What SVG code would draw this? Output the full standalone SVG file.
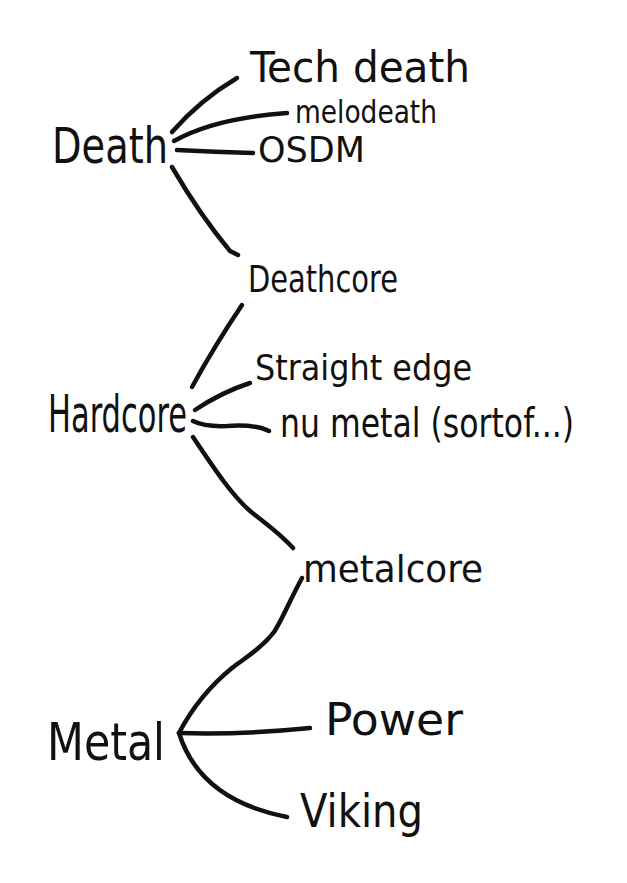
<svg xmlns="http://www.w3.org/2000/svg" width="627" height="883" viewBox="0 0 627 883">
<style>
  text { font-family: "DejaVu Sans Condensed", "Liberation Sans Narrow", "Liberation Sans", sans-serif; fill: #111; }
  .edge { fill: none; stroke: #111; stroke-width: 4.5; stroke-linecap: round; stroke-linejoin: round; }
</style>
<rect width="627" height="883" fill="#fff"/>
<g id="connectors">
  <path class="edge" d="M172,132 Q200,100 237,78"/>
  <path class="edge" d="M174,141 Q215,118 287,113"/>
  <path class="edge" d="M177,150 Q215,152 253,153"/>
  <path class="edge" d="M172,167 Q200,215 230,251 L238,255"/>
  <path class="edge" d="M192,387 Q215,345 242,305"/>
  <path class="edge" d="M195,410 Q222,392 250,383"/>
  <path class="edge" d="M193,421 Q205,427 227,426 Q255,424 269,431"/>
  <path class="edge" d="M193,437 C215,470 235,500 255,515 C272,528 284,538 293,548"/>
  <path class="edge" d="M302,578 C290,600 282,620 274,632 C262,648 245,658 232,668 C205,690 190,712 179,733"/>
  <path class="edge" d="M179,733 Q240,735 310,728"/>
  <path class="edge" d="M179,733 Q200,800 287,817"/>
</g>
<g id="death"><text x="52" y="163" font-size="50" textLength="116" lengthAdjust="spacingAndGlyphs">Death</text></g>
<g id="techdeath"><text x="250" y="82" font-size="42" textLength="220" lengthAdjust="spacingAndGlyphs">Tech death</text></g>
<g id="melodeath"><text x="295" y="123" font-size="32" textLength="142" lengthAdjust="spacingAndGlyphs">melodeath</text></g>
<g id="osdm"><text x="258" y="162" font-size="36" textLength="107" lengthAdjust="spacingAndGlyphs">OSDM</text></g>
<g id="deathcore"><text x="248" y="292" font-size="38" textLength="150" lengthAdjust="spacingAndGlyphs">Deathcore</text></g>
<g id="straightedge"><text x="255" y="380" font-size="36" textLength="217" lengthAdjust="spacingAndGlyphs">Straight edge</text></g>
<g id="hardcore"><text x="48" y="432" font-size="52" textLength="139" lengthAdjust="spacingAndGlyphs">Hardcore</text></g>
<g id="numetal"><text x="280" y="437" font-size="40" textLength="294" lengthAdjust="spacingAndGlyphs">nu metal (sortof...)</text></g>
<g id="metalcore"><text x="303" y="582" font-size="38" textLength="180" lengthAdjust="spacingAndGlyphs">metalcore</text></g>
<g id="metal"><text x="47" y="760" font-size="52" textLength="118" lengthAdjust="spacingAndGlyphs">Metal</text></g>
<g id="power"><text x="325" y="735" font-size="44" textLength="138" lengthAdjust="spacingAndGlyphs">Power</text></g>
<g id="viking"><text x="300" y="827" font-size="46" textLength="123" lengthAdjust="spacingAndGlyphs">Viking</text></g>
</svg>
